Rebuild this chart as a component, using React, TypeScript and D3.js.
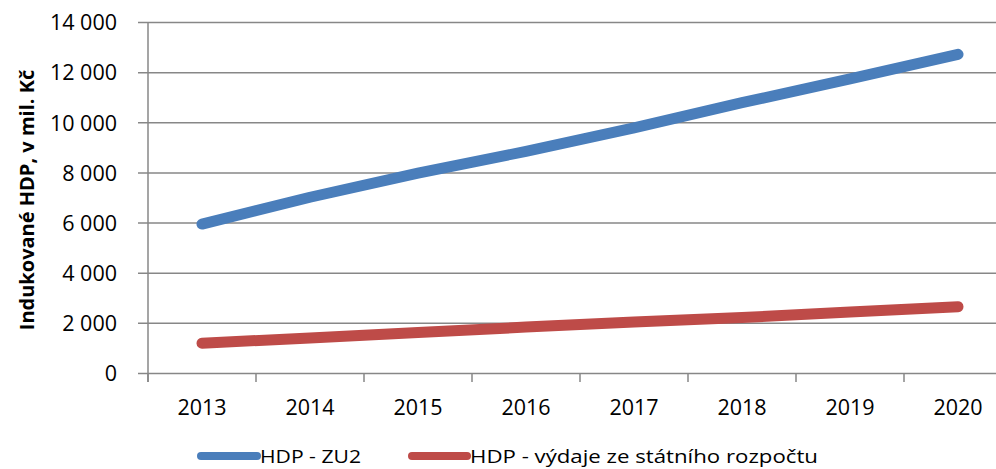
import React from "react";
import * as d3 from "d3";

const years = ["2013", "2014", "2015", "2016", "2017", "2018", "2019", "2020"];
const seriesZU2 = [5960, 7030, 7990, 8860, 9800, 10800, 11750, 12730];
const seriesStatni = [1205, 1420, 1640, 1850, 2050, 2230, 2450, 2665];
const yTicks = [0, 2000, 4000, 6000, 8000, 10000, 12000, 14000];
const seriesNames = ["HDP - ZU2", "HDP - výdaje ze státního rozpočtu"];
const seriesColors = ["#4A7EBB", "#BE4B48"];
const yTitle = "Indukované HDP, v mil. Kč";

const W = 996;
const H = 469;
const FONT = "'Open Sans', sans-serif";

export default function App() {
  const x = d3.scaleBand<string>().domain(years).range([148, 1012]).padding(0);
  const y = d3.scaleLinear().domain([0, 14000]).range([373.5, 22.5]);
  const cx = (d: string) => (x(d) as number) + x.bandwidth() / 2;
  const line = d3
    .line<number>()
    .x((_, i) => cx(years[i]))
    .y((v) => y(v));
  const fmt = (v: number) => d3.format(",")(v).replace(/,/g, " ");
  const grid = "#878787";
  const series = [seriesZU2, seriesStatni];
  const boundaries = years.map((d) => x(d) as number);

  const legendItems = [
    { x1: 201, x2: 257, tx: 260, len: 101 },
    { x1: 412, x2: 467, tx: 470, len: 348 },
  ];

  return (
    <div style={{ position: "fixed", left: 0, top: 0 }}>
      <svg width={W} height={H} style={{ display: "block", background: "#fff" }}>
        {yTicks.map((t) => (
          <g key={t}>
            <line x1={138} x2={W} y1={y(t)} y2={y(t)} stroke={grid} strokeWidth={1.5} />
            <text
              x={117}
              y={y(t)}
              dy="0.36em"
              textAnchor="end"
              fontFamily={FONT}
              fontSize={21.5}
              fill="#000"
            >
              {fmt(t)}
            </text>
          </g>
        ))}
        <line x1={148} x2={148} y1={y(14000)} y2={382} stroke={grid} strokeWidth={1.5} />
        {boundaries.map((b, i) => (
          <line key={i} x1={b} x2={b} y1={y(0)} y2={382} stroke={grid} strokeWidth={1.5} />
        ))}
        {years.map((d) => (
          <text
            key={d}
            x={cx(d)}
            y={415}
            textAnchor="middle"
            fontFamily={FONT}
            fontSize={21.5}
            fill="#000"
          >
            {d}
          </text>
        ))}
        <text
          transform={`translate(34, ${(y(0) + y(14000)) / 2 + 2}) rotate(-90)`}
          textAnchor="middle"
          fontFamily={FONT}
          fontWeight="bold"
          fontSize={20}
          fill="#000"
        >
          {yTitle}
        </text>
        {series.map((s, i) => (
          <path
            key={i}
            d={line(s) as string}
            fill="none"
            stroke={seriesColors[i]}
            strokeWidth={11}
            strokeLinecap="round"
            strokeLinejoin="round"
          />
        ))}
        {legendItems.map((l, i) => (
          <g key={i}>
            <line
              x1={l.x1}
              x2={l.x2}
              y1={456}
              y2={456}
              stroke={seriesColors[i]}
              strokeWidth={8}
              strokeLinecap="round"
            />
            <text
              x={l.tx}
              y={462.5}
              fontFamily={FONT}
              fontSize={19}
              fill="#000"
              textLength={l.len}
              lengthAdjust="spacingAndGlyphs"
            >
              {seriesNames[i]}
            </text>
          </g>
        ))}
      </svg>
    </div>
  );
}
